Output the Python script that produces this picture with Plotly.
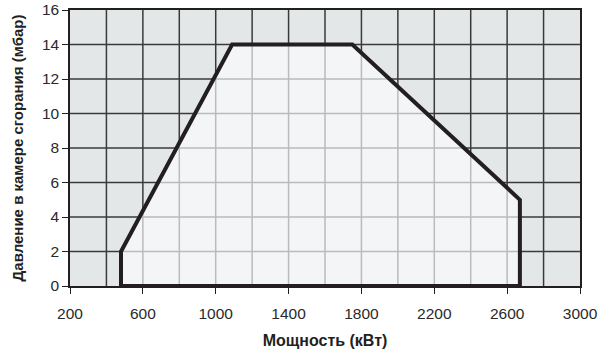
import numpy as np
import plotly.graph_objects as go

# Operating envelope (power kW, pressure mbar)
power = [480, 480, 1090, 1750, 2670, 2670, 480]
pressure = [0, 2, 14, 14, 5, 0, 0]

x_ticks = [200, 600, 1000, 1400, 1800, 2200, 2600, 3000]
y_ticks = [0, 2, 4, 6, 8, 10, 12, 14, 16]
x_grid = list(range(200, 3001, 200))
y_grid = list(range(0, 17, 2))

x_title = "Мощность (кВт)"
y_title = "Давление в камере сгорания (мбар)"

fig = go.Figure()

# light fill of the envelope
fig.add_trace(go.Scatter(x=power, y=pressure, mode="lines", fill="toself",
                         fillcolor="#f4f5f7", line=dict(width=0),
                         hoverinfo="skip", showlegend=False))

# lighter grid inside the envelope
top_x = [480, 1090, 1750, 2670]
top_y = [2, 14, 14, 5]
gx, gy = [], []
for xv in x_grid:
    if 480 < xv < 2670:
        yt = float(np.interp(xv, top_x, top_y))
        gx += [xv, xv, None]
        gy += [0, yt, None]
for yv in y_grid:
    if 0 < yv < 14:
        xl = 480 if yv <= 2 else 480 + (yv - 2) * (1090 - 480) / 12
        xr = 2670 if yv <= 5 else 2670 - (yv - 5) * (2670 - 1750) / 9
        gx += [xl, xr, None]
        gy += [yv, yv, None]
fig.add_trace(go.Scatter(x=gx, y=gy, mode="lines",
                         line=dict(color="#b9bbbd", width=1.5),
                         hoverinfo="skip", showlegend=False))

# envelope outline
fig.add_trace(go.Scatter(x=power, y=pressure, mode="lines",
                         line=dict(color="#231f20", width=4),
                         hoverinfo="skip", showlegend=False))

font_fam = "Liberation Sans, Arial, sans-serif"
fig.update_layout(
    width=599, height=349,
    margin=dict(l=70, r=19, t=10, b=63),
    paper_bgcolor="white", plot_bgcolor="#e4e7e8",
    font=dict(family=font_fam, size=15.5, color="#2a2a2a"),
    showlegend=False,
)
fig.update_xaxes(
    range=[200, 3000], tickvals=x_ticks, ticktext=[str(v) for v in x_ticks],
    showgrid=False, zeroline=False, automargin=False,
    showline=True, linecolor="#231f20", linewidth=1.5, mirror=True,
    ticks="outside", ticklen=6, tickcolor="#231f20", tickwidth=1,
    ticklabelstandoff=7,
    title=dict(text="<b>" + x_title + "</b>", font=dict(size=16, color="#231f20")),
)
fig.update_yaxes(
    range=[0, 16], tickvals=y_ticks, showgrid=False, zeroline=False, automargin=False,
    showline=True, linecolor="#231f20", linewidth=1.5, mirror=True,
    ticks="outside", ticklen=6, tickcolor="#231f20", tickwidth=1,
    title=dict(text="<b>" + y_title + "</b>", font=dict(size=15, color="#231f20")),
)

# dark grid for whole plot background (drawn below traces)
for xv in x_grid[1:-1]:
    fig.add_shape(type="line", x0=xv, x1=xv, y0=0, y1=16, xref="x", yref="y",
                  line=dict(color="#3a3a3a", width=1.5), layer="below")
for yv in y_grid[1:-1]:
    fig.add_shape(type="line", x0=200, x1=3000, y0=yv, y1=yv, xref="x", yref="y",
                  line=dict(color="#3a3a3a", width=1.5), layer="below")

fig.write_html("out.html", config={"displayModeBar": False},
               post_script="document.body.style.margin='0';document.body.style.overflow='hidden';")
